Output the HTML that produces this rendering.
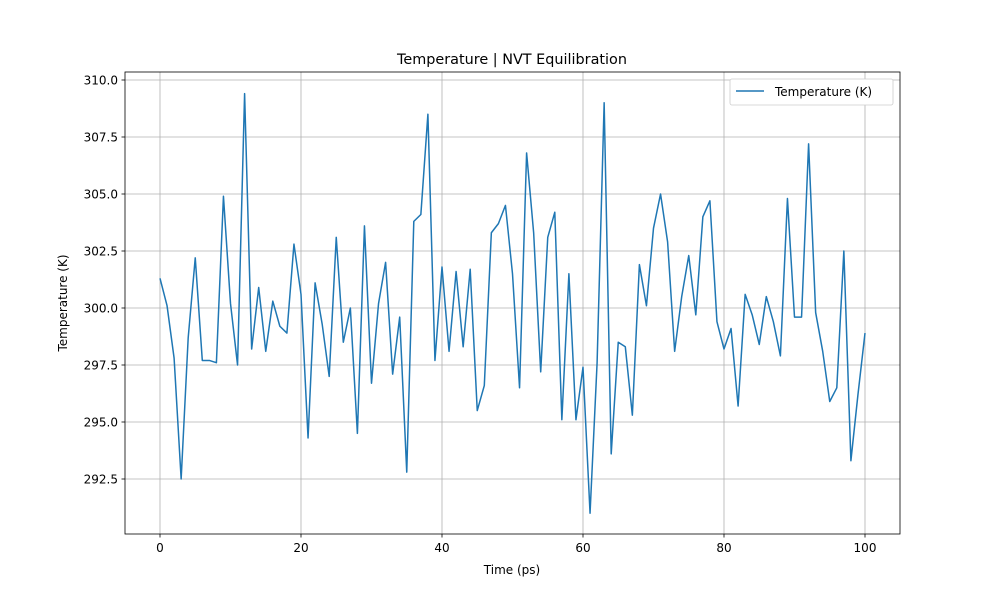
<!DOCTYPE html>
<html><head><meta charset="utf-8"><style>
body{margin:0;background:#fff;}
svg text{font-family:"DejaVu Sans","Liberation Sans",sans-serif;fill:#000;}
</style></head><body>
<svg id="chart" width="1000" height="600">
<rect width="1000" height="600" fill="#fff"/>
<g id="grid"></g>
<g id="ticks"></g>
<path id="series" fill="none" stroke="#1f77b4" stroke-width="1.5" stroke-linejoin="round"/>
<rect x="125" y="72" width="775" height="462" fill="none" stroke="#000" stroke-width="0.8"/>
<text x="512" y="64" text-anchor="middle" font-size="14.4">Temperature | NVT Equilibration</text>
<text x="512" y="574" text-anchor="middle" font-size="12">Time (ps)</text>
<text transform="translate(67,303) rotate(-90)" text-anchor="middle" font-size="12">Temperature (K)</text>
<g>
<rect x="730" y="79" width="163" height="26" rx="2" fill="#fff" stroke="#ccc" stroke-width="0.8"/>
<line x1="736" y1="91" x2="764" y2="91" stroke="#1f77b4" stroke-width="1.5"/>
<text x="775" y="96" font-size="12">Temperature (K)</text>
</g>
</svg>
<script>
const times=[];for(let i=0;i<=100;i++)times.push(i);
const temps=[301.3,300.1,297.8,292.5,298.7,302.2,297.7,297.7,297.6,304.9,300.2,297.5,309.4,298.2,300.9,298.1,300.3,299.2,298.9,302.8,300.6,294.3,301.1,299.3,297.0,303.1,298.5,300.0,294.5,303.6,296.7,300.2,302.0,297.1,299.6,292.8,303.8,304.1,308.5,297.7,301.8,298.1,301.6,298.3,301.7,295.5,296.6,303.3,303.7,304.5,301.5,296.5,306.8,303.3,297.2,303.1,304.2,295.1,301.5,295.1,297.4,291.0,297.6,309.0,293.6,298.5,298.3,295.3,301.9,300.1,303.5,305.0,302.9,298.1,300.5,302.3,299.7,304.0,304.7,299.4,298.2,299.1,295.7,300.6,299.7,298.4,300.5,299.4,297.9,304.8,299.6,299.6,307.2,299.8,298.1,295.9,296.5,302.5,293.3,296.2,298.9];
const xTicks=[0,20,40,60,80,100];
const yTicks=[292.5,295.0,297.5,300.0,302.5,305.0,307.5,310.0];
const NS='http://www.w3.org/2000/svg';
const xs=v=>160+(v-0)*7.05;
const ys=v=>80+(310-v)*22.8;
const grid=document.getElementById('grid'),ticks=document.getElementById('ticks');
function mk(tag,attrs,parent){const e=document.createElementNS(NS,tag);for(const k in attrs)e.setAttribute(k,attrs[k]);parent.appendChild(e);return e;}
xTicks.forEach(t=>{
 const x=xs(t);
 const g=mk('line',{x1:x,x2:x,y1:72,y2:534,stroke:'#b0b0b0','stroke-width':0.8},grid);
 
 
 mk('line',{x1:x,x2:x,y1:534,y2:537.5,stroke:'#000','stroke-width':0.8},ticks);
 const tx=mk('text',{x:x,y:552,'text-anchor':'middle','font-size':12},ticks);
 tx.textContent=t;
 
 
});
yTicks.forEach(t=>{
 const y=ys(t);
 const g=mk('line',{x1:125,x2:900,y1:y,y2:y,stroke:'#b0b0b0','stroke-width':0.8},grid);
 
 
 mk('line',{x1:121.5,x2:125,y1:y,y2:y,stroke:'#000','stroke-width':0.8},ticks);
 const tx=mk('text',{x:118,y:y+4.5,'text-anchor':'end','font-size':12},ticks);
 tx.textContent=t.toFixed(1);
 
 
});
document.getElementById('series').setAttribute('d',temps.map((v,i)=>(i?'L':'M')+xs(times[i]).toFixed(2)+','+ys(v).toFixed(2)).join(''));
</script>
</body></html>
